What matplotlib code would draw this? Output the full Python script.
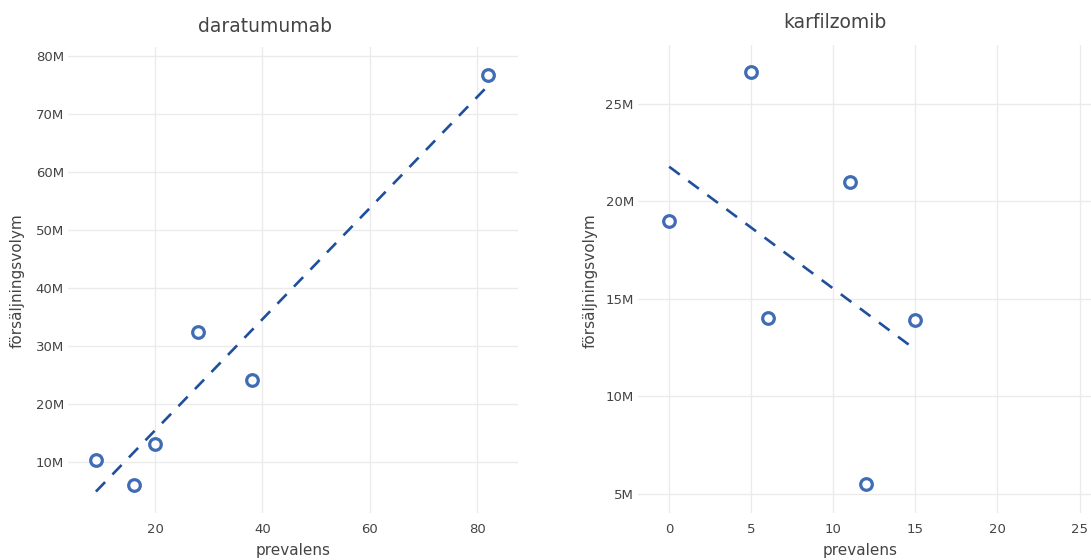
"""
Två spridningsdiagram: försäljningsvolym mot prevalens, med linjär trendlinje.
"""

import matplotlib
matplotlib.use("Agg")
import matplotlib.pyplot as plt
import numpy as np
from matplotlib.ticker import FuncFormatter

# daratumumab
dara_prev = [9, 16, 20, 28, 38, 82]
dara_vol = [10.4e6, 6.1e6, 13.1e6, 32.4e6, 24.2e6, 76.7e6]

# karfilzomib
karf_prev = [0, 5, 6, 11, 12, 15]
karf_vol = [19.0e6, 26.6e6, 14.0e6, 21.0e6, 5.5e6, 13.9e6]

dara_xticks = [20, 40, 60, 80]
dara_yticks = [10e6, 20e6, 30e6, 40e6, 50e6, 60e6, 70e6, 80e6]
karf_xticks = [0, 5, 10, 15, 20, 25]
karf_yticks = [5e6, 10e6, 15e6, 20e6, 25e6]

TEXT = "#444444"
GRID = "#ebebeb"
MARKER = "#3f6cb4"
LINE = "#1f4f9c"

W, H = 1091, 560
fig = plt.figure(figsize=(W / 100, H / 100), dpi=100)
plt.rcParams["font.family"] = ["DejaVu Sans"]


def px_axes(x0, y0, x1, y1):
    # pixelkoordinater (uppifrån) -> figurandelar
    return fig.add_axes([x0 / W, 1 - y1 / H, (x1 - x0) / W, (y1 - y0) / H])


def mfmt(v, _):
    return f"{v / 1e6:.0f}M"


def panel(ax, x, y, xticks, yticks, xlim, ylim):
    ax.scatter(x, y, s=70, facecolors="white", edgecolors=MARKER,
               linewidths=2.3, zorder=3)
    # linjär trendlinje (minsta kvadrat)
    k, m = np.polyfit(x, y, 1)
    xs = np.array([min(x), max(x)])
    ax.plot(xs, k * xs + m, color=LINE, linewidth=1.9,
            dashes=(5, 4), zorder=2)
    ax.set_xlim(*xlim)
    ax.set_ylim(*ylim)
    ax.set_xticks(xticks)
    ax.set_yticks(yticks)
    ax.yaxis.set_major_formatter(FuncFormatter(mfmt))
    ax.grid(True, color=GRID, linewidth=1)
    ax.set_axisbelow(True)
    for s in ax.spines.values():
        s.set_visible(False)
    ax.tick_params(length=0, labelsize=9.5, labelcolor=TEXT, pad=3)
    ax.tick_params(axis="x", pad=7)


ax1 = px_axes(68, 47, 518, 513)
panel(ax1, dara_prev, dara_vol, dara_xticks, dara_yticks,
      (3.8, 87.6), (1.3e6, 81.5e6))

ax2 = px_axes(638, 45, 1091, 513)
panel(ax2, karf_prev, karf_vol, karf_xticks, karf_yticks,
      (-1.9, 25.7), (4.03e6, 28.0e6))

fig.text(265 / W, 1 - 27 / H, "daratumumab", ha="center", va="center",
         fontsize=13.5, color=TEXT)
fig.text(835 / W, 1 - 22 / H, "karfilzomib", ha="center", va="center",
         fontsize=13.5, color=TEXT)

for xc in (293, 860):
    fig.text(xc / W, 1 - 550 / H, "prevalens", ha="center", va="center",
             fontsize=11, color=TEXT)
for xc in (17, 590):
    fig.text(xc / W, 1 - 281 / H, "försäljningsvolym", ha="center",
             va="center", rotation=90, fontsize=11, color=TEXT)

fig.savefig("out.png", dpi=100)
